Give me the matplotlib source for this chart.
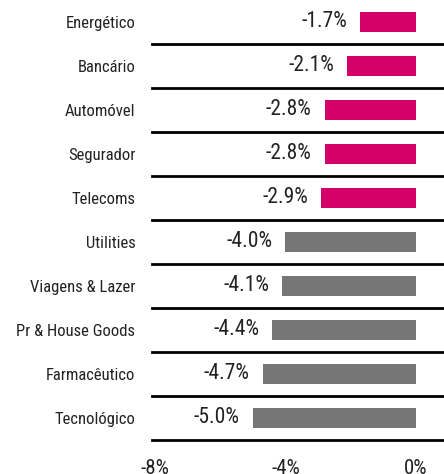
import matplotlib
matplotlib.use("Agg")
import matplotlib.pyplot as plt
from matplotlib import font_manager

names = {f.name for f in font_manager.fontManager.ttflist}
fam = [n for n in ["Liberation Sans Narrow", "Roboto Condensed", "Archivo Narrow", "Liberation Sans", "DejaVu Sans"] if n in names]
plt.rcParams['font.family'] = fam

categories = ["Energético", "Bancário", "Automóvel", "Segurador", "Telecoms",
              "Utilities", "Viagens & Lazer", "Pr & House Goods", "Farmacêutico", "Tecnológico"]
values = [-1.7, -2.1, -2.8, -2.8, -2.9, -4.0, -4.1, -4.4, -4.7, -5.0]
colors = ["#D20068"] * 5 + ["#767676"] * 5
xticks = [-8, -4, 0]
xticklabels = ["-8%", "-4%", "0%"]

fig = plt.figure(figsize=(4.44, 4.74), dpi=100)
ax = fig.add_axes([152/444, 1 - 440/474, 292/444, 440/474])

y = list(range(len(categories)))
ax.barh(y, values, height=0.46, color=colors)
for yi, v in zip(y, values):
    ax.text(v - 0.4, yi, f"{v:.1f}%", ha="right", va="center", fontsize=15.5, color="#222222")
for i in range(len(categories)):
    ax.axhline(i + 0.5, color="black", lw=2, clip_on=False)

ax.set_xlim(-8.09, 0.86)
ax.set_ylim(len(categories) - 0.5, -0.5)
ax.set_yticks(y)
ax.set_yticklabels(categories, fontsize=12, color="#222222")
ax.set_xticks(xticks)
ax.set_xticklabels(xticklabels, fontsize=15, color="#222222")
ax.tick_params(axis="y", length=0, pad=12)
ax.tick_params(axis="x", length=0, pad=14)
for s in ax.spines.values():
    s.set_visible(False)

fig.savefig("out.png", dpi=100)
